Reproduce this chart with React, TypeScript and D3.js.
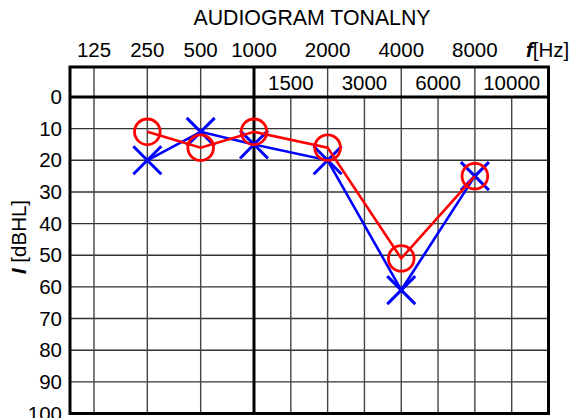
import React from "react";
import * as d3 from "d3";

const FREQS = [125, 250, 500, 1000, 1500, 2000, 3000, 4000, 6000, 8000, 10000];
const TOP_LABELS = [125, 250, 500, 1000, 2000, 4000, 8000];
const HEADER_LABELS = [1500, 3000, 6000, 10000];
const HEADER_DIVIDERS = [125, 250, 500, 2000, 4000, 8000];
const DB_TICKS = [0, 10, 20, 30, 40, 50, 60, 70, 80, 90, 100];
const TEST_FREQS = [250, 500, 1000, 2000, 4000, 8000];
const RIGHT_EAR = [11, 16, 11, 16, 51, 25]; // red circles
const LEFT_EAR = [20, 11, 15, 20, 61, 25]; // blue crosses

const W = 576;
const H = 418;
const FONT = "'Liberation Sans', Arial, sans-serif";

export default function App() {
  const xi = d3.scaleLinear().domain([-0.45, 3, 11]).range([70, 254, 548.5]);
  const xf = (f: number) => xi(FREQS.indexOf(f));
  const y = d3.scaleLinear().domain([0, 100]).range([97, 413.5]);
  const top = 67;
  const left = xi(-0.45);
  const right = xi(11);
  const bottom = y(100);

  const line = d3
    .line<[number, number]>()
    .x((d) => xf(d[0]))
    .y((d) => y(d[1]));

  const redPts: [number, number][] = TEST_FREQS.map((f, i) => [f, RIGHT_EAR[i]]);
  const bluePts: [number, number][] = TEST_FREQS.map((f, i) => [f, LEFT_EAR[i]]);
  const xs = 14;
  const fs = 20.5;

  return (
    <div style={{ position: "fixed", left: 0, top: 0 }}>
      <svg width={W} height={H} style={{ display: "block", background: "#fff" }} fontFamily={FONT}>
        <text x={312} y={25} textAnchor="middle" fontSize={21.3}>
          AUDIOGRAM TONALNY
        </text>
        {TOP_LABELS.map((f) => (
          <text key={"t" + f} x={xf(f)} y={57} textAnchor="middle" fontSize={fs}>
            {f}
          </text>
        ))}
        <text x={526} y={57} fontSize={fs}>
          <tspan fontWeight="bold" fontStyle="italic">f</tspan>
          <tspan>[Hz]</tspan>
        </text>

        {/* horizontal grid */}
        {DB_TICKS.filter((d) => d > 0 && d < 100).map((d) => (
          <line key={"h" + d} x1={left} x2={right} y1={y(d)} y2={y(d)} stroke="#333" strokeWidth={1.4} />
        ))}
        {/* vertical grid */}
        {FREQS.map((f) => (
          <line
            key={"v" + f}
            x1={xf(f)}
            x2={xf(f)}
            y1={f === 1000 ? top : y(0)}
            y2={bottom}
            stroke={f === 1000 ? "#000" : "#444"}
            strokeWidth={f === 1000 ? 3 : 1.4}
          />
        ))}
        {HEADER_DIVIDERS.map((f) => (
          <line key={"hd" + f} x1={xf(f)} x2={xf(f)} y1={top} y2={y(0)} stroke="#444" strokeWidth={1.4} />
        ))}
        {HEADER_LABELS.map((f) => (
          <text key={"hl" + f} x={xf(f)} y={89.5} textAnchor="middle" fontSize={fs}>
            {f}
          </text>
        ))}
        <line x1={left} x2={right} y1={y(0)} y2={y(0)} stroke="#000" strokeWidth={3} />
        <rect x={left} y={top} width={right - left} height={bottom - top} fill="none" stroke="#000" strokeWidth={3} />

        {DB_TICKS.map((d) => (
          <text key={"y" + d} x={62} y={y(d)} dy="0.35em" textAnchor="end" fontSize={fs}>
            {d}
          </text>
        ))}
        <text transform="translate(26,237) rotate(-90)" textAnchor="middle" fontSize={fs}>
          <tspan fontWeight="bold" fontStyle="italic">I</tspan>
          <tspan> [dBHL]</tspan>
        </text>

        {/* left ear - blue */}
        <path d={line(bluePts) || ""} fill="none" stroke="#0000ff" strokeWidth={2.6} />
        {bluePts.map((p, i) => (
          <g key={"b" + i} stroke="#0000ff" strokeWidth={3}>
            <line x1={xf(p[0]) - xs} y1={y(p[1]) - xs} x2={xf(p[0]) + xs} y2={y(p[1]) + xs} />
            <line x1={xf(p[0]) - xs} y1={y(p[1]) + xs} x2={xf(p[0]) + xs} y2={y(p[1]) - xs} />
          </g>
        ))}
        {/* right ear - red */}
        <path d={line(redPts) || ""} fill="none" stroke="#ff0000" strokeWidth={2.6} />
        {redPts.map((p, i) => (
          <circle key={"r" + i} cx={xf(p[0])} cy={y(p[1])} r={12.8} fill="none" stroke="#ff0000" strokeWidth={2.8} />
        ))}
      </svg>
    </div>
  );
}
